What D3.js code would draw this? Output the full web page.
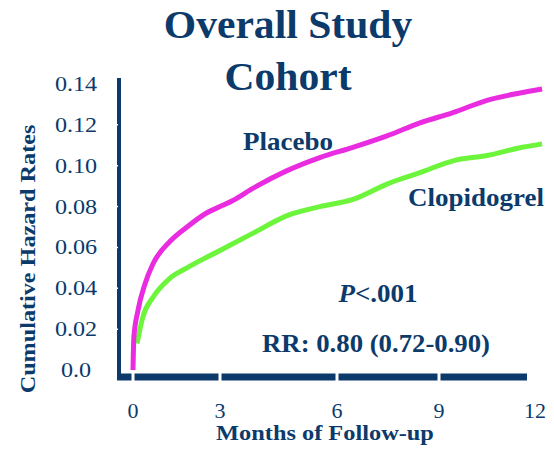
<!DOCTYPE html>
<html>
<head>
<meta charset="utf-8">
<script src="https://cdn.jsdelivr.net/npm/d3@7"></script>
<style>
  html, body { margin: 0; padding: 0; background: #ffffff; }
  svg { display: block; }
  text { font-family: "Liberation Serif", "Times New Roman", serif; fill: #0b3a6b; }
</style>
</head>
<body>
<svg id="chart" width="554" height="451"></svg>
<script>
// Cumulative hazard curves, overall study cohort (months of follow-up)
const placeboMonths = [0, 0.03, 0.17, 0.41, 0.69, 1.28, 1.86, 2.55, 3.0, 3.33, 3.85, 4.72, 5.56, 6.47, 7.47, 8.44, 9.44, 10.5, 11.53, 12.22];
const placeboRates  = [0.0, 0.016, 0.029, 0.042, 0.052, 0.063, 0.070, 0.077, 0.080, 0.083, 0.089, 0.0976, 0.104, 0.109, 0.1146, 0.121, 0.126, 0.132, 0.1356, 0.1376];

const clopidogrelMonths = [0.14, 0.34, 0.69, 1.28, 1.86, 3.0, 3.85, 4.72, 5.56, 6.47, 7.47, 8.44, 9.44, 10.5, 11.53, 12.22];
const clopidogrelRates  = [0.013, 0.026, 0.0356, 0.045, 0.050, 0.0585, 0.067, 0.0756, 0.080, 0.0835, 0.091, 0.0966, 0.1024, 0.105, 0.1088, 0.1107];

const xTicks = [0, 3, 6, 9, 12];
const yTicks = [0, 0.02, 0.04, 0.06, 0.08, 0.10, 0.12, 0.14];
const yTickLabels = ["0.0", "0.02", "0.04", "0.06", "0.08", "0.10", "0.12", "0.14"];

const navy = "#0b3a6b";
const magenta = "#ea2ce0";
const green = "#6cf53a";

const svg = d3.select("#chart");

// month axis spacing follows the printed tick layout
const x = d3.scaleLinear().domain(xTicks).range([133, 220, 337, 439, 535]);
const y = d3.scaleLinear().domain([0, 0.14]).range([370, 84]);

// horizontally stretched serif text helper
function label(txt, px, py, size, opts = {}) {
  const t = svg.append("text")
    .attr("transform", `translate(${px},${py}) rotate(${opts.rotate || 0}) scale(${opts.sx || 1},1)`)
    .attr("font-size", size)
    .attr("font-weight", opts.weight || "normal")
    .attr("text-anchor", opts.anchor || "start")
    .text(txt);
  return t;
}

// title
label("Overall Study", 288, 38, 40, { weight: "bold", anchor: "middle", sx: 1.04 });
label("Cohort", 288, 90, 40, { weight: "bold", anchor: "middle", sx: 1.04 });

// y axis line
svg.append("line")
  .attr("x1", 119).attr("x2", 119)
  .attr("y1", 78).attr("y2", 380)
  .attr("stroke", navy).attr("stroke-width", 4);

// x axis: heavy bar broken at each tick
svg.append("line")
  .attr("x1", 117).attr("x2", 527)
  .attr("y1", 377).attr("y2", 377)
  .attr("stroke", navy).attr("stroke-width", 7);
svg.append("g").selectAll("line")
  .data(xTicks.filter(d => d < 12))
  .join("line")
  .attr("x1", d => x(d)).attr("x2", d => x(d))
  .attr("y1", 372).attr("y2", 382)
  .attr("stroke", "#ffffff").attr("stroke-width", 3);

// small notches on the y axis
svg.append("g").selectAll("line")
  .data(yTicks.filter(d => d > 0 && d < 0.14))
  .join("line")
  .attr("x1", 116.5).attr("x2", 118)
  .attr("y1", d => y(d)).attr("y2", d => y(d))
  .attr("stroke", "#ffffff").attr("stroke-width", 1.5);

// y tick labels
yTicks.forEach((d, i) => {
  label(yTickLabels[i], 76, y(d) + 7, 21, { anchor: "middle", sx: 1.15 });
});

// x tick labels
xTicks.forEach(d => {
  label(String(d), x(d), 418, 22, { anchor: "middle" });
});

// axis titles
label("Months of Follow-up", 325, 440, 21, { weight: "bold", anchor: "middle", sx: 1.16 });
label("Cumulative Hazard Rates", 35, 259, 22, { weight: "bold", anchor: "middle", rotate: -90, sx: 1.1 });

// curves
const line = d3.line()
  .x(d => x(d[0]))
  .y(d => y(d[1]))
  .curve(d3.curveMonotoneX);

const placebo = placeboMonths.map((m, i) => [m, placeboRates[i]]);
const clopidogrel = clopidogrelMonths.map((m, i) => [m, clopidogrelRates[i]]);

svg.append("path")
  .datum(clopidogrel)
  .attr("d", line)
  .attr("fill", "none")
  .attr("stroke", green)
  .attr("stroke-width", 5)
  .attr("stroke-linejoin", "round");

svg.append("path")
  .datum(placebo)
  .attr("d", line)
  .attr("fill", "none")
  .attr("stroke", magenta)
  .attr("stroke-width", 5)
  .attr("stroke-linejoin", "round");

// series labels and statistics
label("Placebo", 243, 150, 25, { weight: "bold", sx: 1.08 });
label("Clopidogrel", 408, 206, 25, { weight: "bold", sx: 1.08 });

const pText = svg.append("text")
  .attr("transform", "translate(378,302) scale(1.08,1)")
  .attr("font-size", 25)
  .attr("font-weight", "bold")
  .attr("text-anchor", "middle");
pText.append("tspan").attr("font-style", "italic").text("P");
pText.append("tspan").text("<.001");

label("RR: 0.80 (0.72-0.90)", 376, 352, 25, { weight: "bold", anchor: "middle", sx: 1.07 });
</script>
</body>
</html>
